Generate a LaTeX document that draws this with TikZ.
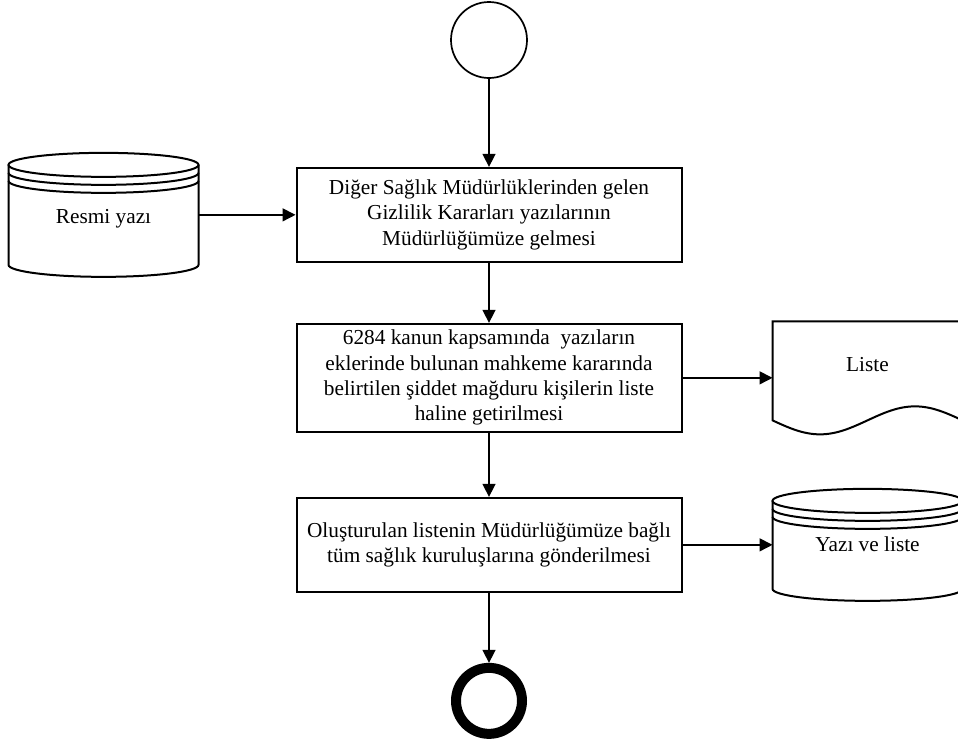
\documentclass[tikz,border=0pt]{standalone}
\usepackage{fontspec}
\setmainfont{Liberation Serif}
\usetikzlibrary{arrows.meta, positioning}

\begin{document}
\begin{tikzpicture}[
        x=1pt, y=1pt,
        font=\fontsize{21.3}{25.3}\selectfont,
        event/.style={
            circle,
            draw=black,
            minimum size=76pt,
            inner sep=0pt
        },
        start/.style={event, line width=1.7pt},
        stop/.style={event, line width=10pt, minimum size=66pt},
        process/.style={
            rectangle,
            draw=black,
            line width=2pt,
            minimum width=385pt,
            align=center
        },
        store/.style={
            minimum width=190pt,
            inner sep=0pt,
            outer sep=0pt,
            text height=14pt,
            text depth=5pt
        },
        shapeline/.style={line width=2pt, black},
        arrow/.style={
            -{Triangle[length=13pt, width=13pt]},
            line width=1.5pt
        }
    ]
    \useasboundingbox (0,0) rectangle (958,-742);

    % Main flow (middle column)
    \node[start] (begin) at (489,-40) {};
    \node[process, minimum height=94pt, below=88pt of begin] (receive)
        {Diğer Sağlık Müdürlüklerinden gelen\\Gizlilik Kararları yazılarının\\Müdürlüğümüze gelmesi};
    \node[process, minimum height=108pt, below=60pt of receive] (listing)
        {6284 kanun kapsamında\ \ yazıların\\eklerinde bulunan mahkeme kararında\\belirtilen şiddet mağduru kişilerin liste\\haline getirilmesi};
    \node[process, minimum height=94pt, below=64pt of listing] (send)
        {Oluşturulan listenin Müdürlüğümüze bağlı\\tüm sağlık kuruluşlarına gönderilmesi};
    \node[stop, below=70pt of send] (end) {};

    % Stores and document (side columns)
    \node[store, minimum height=124pt, left=97pt of receive] (letter) {\raisebox{-4pt}{Resmi yazı}};
    \node[store, minimum height=113pt, right=90pt of listing] (list) {\raisebox{11pt}{Liste}};
    \node[store, minimum height=112pt, right=90pt of send] (letterlist) {\raisebox{-2pt}{Yazı ve liste}};

    % Cylinder outlines
    \foreach \n in {letter, letterlist} {
        \draw[shapeline] ([yshift=-12pt]\n.north) ellipse (95pt and 12pt);
        \draw[shapeline] ([yshift=-20pt]\n.north west) arc[start angle=180, end angle=360, x radius=95pt, y radius=12pt];
        \draw[shapeline] ([yshift=-28pt]\n.north west) arc[start angle=180, end angle=360, x radius=95pt, y radius=12pt];
        \draw[shapeline] ([yshift=-12pt]\n.north west) -- ([yshift=12pt]\n.south west)
            arc[start angle=180, end angle=360, x radius=95pt, y radius=12pt]
            -- ([yshift=-12pt]\n.north east);
    }

    % Document outline
    \draw[shapeline] ([yshift=14pt]list.south west) sin ++(47.5,-14) cos ++(47.5,14)
        sin ++(47.5,14) cos ++(47.5,-14) -- (list.north east) -- (list.north west) -- cycle;

    % Arrows
    \draw[arrow] (begin) -- (receive);
    \draw[arrow] (receive) -- (listing);
    \draw[arrow] (listing) -- (send);
    \draw[arrow] (send) -- (end);
    \draw[arrow] (letter) -- (receive);
    \draw[arrow] (listing) -- (list);
    \draw[arrow] (send) -- (letterlist);

\end{tikzpicture}
\end{document}
